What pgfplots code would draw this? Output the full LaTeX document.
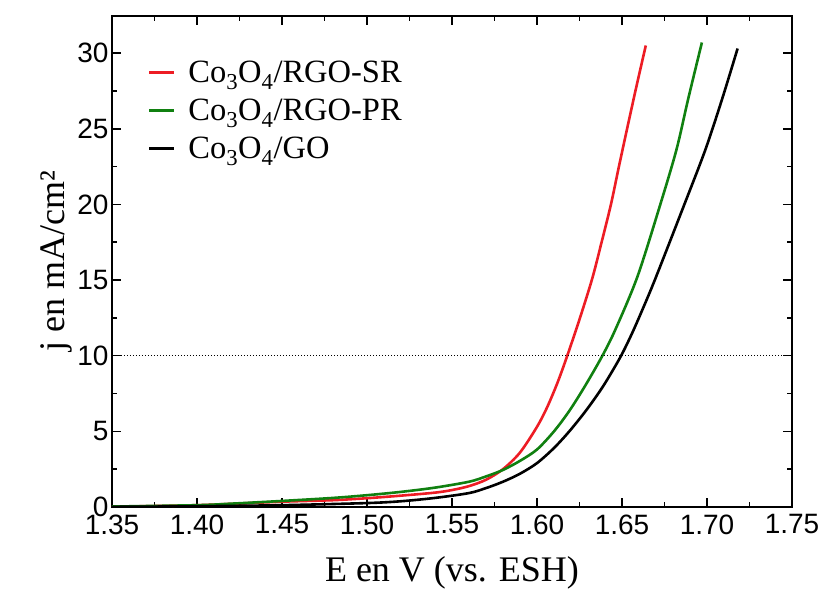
\documentclass[border=0pt]{standalone}
\usepackage{fontspec}
\setmainfont{Liberation Serif}
\newfontfamily\ticksf{Liberation Sans}
\usepackage{pgfplots}
\pgfplotsset{compat=1.18}
\definecolor{cred}{RGB}{237,28,36}
\definecolor{cgreen}{RGB}{16,128,16}
\begin{document}
\begin{tikzpicture}
\begin{axis}[
  at={(0,0)}, anchor=south west,
  scale only axis, width=680pt, height=491pt,
  xmin=1.35, xmax=1.75, ymin=0, ymax=32.45,
  xtick={1.35,1.40,...,1.751}, ytick={0,5,...,30},
  minor x tick num=1, minor y tick num=1,
  major tick length=9pt, minor tick length=5pt,
  every tick/.style={black, line width=1.6pt},
  axis line style={line width=2.2pt},
  tick label style={font=\ticksf\fontsize{28}{28}\selectfont},
  xticklabel style={yshift=-4pt, /pgf/number format/.cd, fixed, fixed zerofill, precision=2, assume math mode=true},
  yticklabel style={/pgf/number format/.cd, assume math mode=true},
  xlabel={E en V (vs. ESH)}, ylabel={j en mA/cm²},
  label style={font=\fontsize{36}{36}\selectfont},
  xlabel style={yshift=-15pt},
  ylabel style={yshift=-2pt},
  legend style={at={(0.052,0.912)}, anchor=north west, draw=none, fill=none,
    font=\fontsize{32.5}{36}\selectfont, inner sep=0pt, row sep=11pt},
  legend cell align=left,
  legend image code/.code={\draw[#1, line width=3pt] (0pt,0pt) -- (25pt,0pt); \path (36pt,0pt);},
]
\addplot[cred, line width=2.6pt, smooth, tension=0.5] coordinates {
(1.35,0.02) (1.40,0.12) (1.45,0.35) (1.48,0.45) (1.50,0.58) (1.52,0.75) (1.54,0.95)
(1.55,1.12) (1.56,1.38) (1.57,1.8) (1.58,2.5) (1.59,3.6) (1.60,5.3) (1.606,6.6) (1.612,8.2)
(1.6175,9.9) (1.625,12.4) (1.6325,15.1) (1.638,17.5) (1.6435,20) (1.648,22.4) (1.653,25)
(1.6585,27.8) (1.664,30.5)};
\addlegendentry{Co\textsubscript{3}O\textsubscript{4}/RGO-SR}
\addplot[cgreen, line width=2.6pt, smooth, tension=0.5] coordinates {
(1.35,0.03) (1.40,0.12) (1.42,0.22) (1.45,0.4) (1.48,0.6) (1.50,0.78) (1.52,1.0)
(1.54,1.28) (1.56,1.67) (1.57,2.02) (1.58,2.45) (1.59,3.05) (1.60,3.8) (1.61,5.0) (1.619,6.35)
(1.628,7.95) (1.638,9.9) (1.646,11.7) (1.659,15.2) (1.672,19.8) (1.682,23.6) (1.689,27) (1.697,30.7)};
\addlegendentry{Co\textsubscript{3}O\textsubscript{4}/RGO-PR}
\addplot[black, line width=2.6pt, smooth, tension=0.5] coordinates {
(1.35,0.01) (1.40,0.05) (1.45,0.12) (1.50,0.26) (1.52,0.38) (1.54,0.6) (1.56,0.92)
(1.57,1.25) (1.58,1.67) (1.59,2.2) (1.60,2.9) (1.61,3.9) (1.619,5.0) (1.629,6.4) (1.639,8.0)
(1.649,9.9) (1.656,11.5) (1.663,13.3) (1.670,15.2) (1.686,19.8) (1.699,23.6) (1.709,27) (1.718,30.3)};
\addlegendentry{Co\textsubscript{3}O\textsubscript{4}/GO}
\addplot[black, dotted, line width=1pt, forget plot] coordinates {(1.35,10) (1.75,10)};
\end{axis}
\pgfresetboundingbox
\path[use as bounding box] (-112pt,-85pt) rectangle (711pt,507pt);
\end{tikzpicture}
\end{document}
